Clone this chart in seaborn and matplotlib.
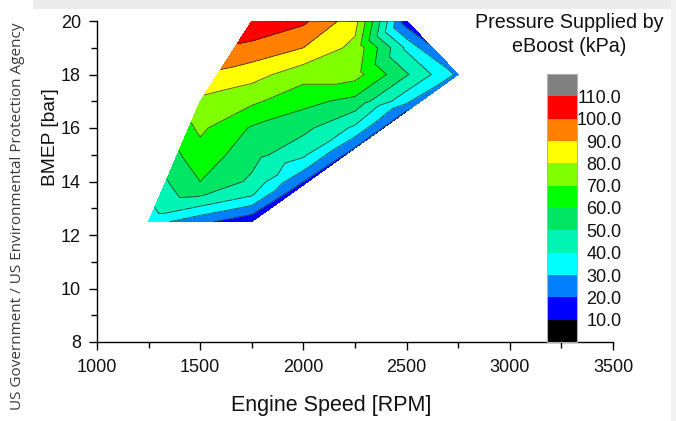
import numpy as np
import matplotlib
matplotlib.use("Agg")
import matplotlib.pyplot as plt
import matplotlib.tri as mtri
from matplotlib.patches import Rectangle
from matplotlib.ticker import MultipleLocator
import seaborn as sns

# eBoost pressure map: operating points (engine speed, BMEP) and supplied pressure
speed_rpm = [1250,
             1500, 1500, 1500, 1500, 1500, 1500, 1500,
             1750, 1750, 1750, 1750, 1750, 1750, 1750, 1750, 1750, 1750,
             2000, 2000, 2000, 2000, 2000, 2000, 2000, 2000,
             2250, 2250, 2250, 2250, 2250, 2250,
             2500, 2500, 2500, 2500, 2500,
             2750]
bmep_bar = [12.5,
            12.5, 13.0, 13.5, 14.0, 15.0, 16.0, 17.0,
            12.5, 13.0, 13.5, 14.0, 15.0, 16.0, 17.0, 18.0, 19.0, 20.0,
            13.875, 14.5, 15.0, 16.0, 17.0, 18.0, 19.0, 20.0,
            15.25, 16.0, 17.0, 18.0, 19.0, 20.0,
            16.625, 17.0, 18.0, 19.0, 20.0,
            18.0]
boost_kpa = [35,
             23, 38, 51, 60, 66, 72, 77.5,
             12, 27, 41, 48, 54, 59, 72, 84, 97, 109,
             17, 32, 42, 53, 63, 74, 90, 102,
             19.5, 38, 57, 74, 77, 84,
             19.5, 33, 51, 38, 14,
             28]

levels = [0, 10, 20, 30, 40, 50, 60, 70, 80, 90, 100, 110, 120]
band_colors = ["#000000", "#0000FF", "#0080FF", "#00FFFF", "#00F5B4",
               "#00E664", "#00FF00", "#80FF00", "#FFFF00", "#FF8000",
               "#FF0000", "#808080"]
cbar_ticks = [10, 20, 30, 40, 50, 60, 70, 80, 90, 100, 110]
cbar_labels = ["10.0", "20.0", "30.0", "40.0", "50.0", "60.0", "70.0",
               "80.0", "90.0", "100.0", "110.0"]

sns.set_theme(style="ticks")
plt.rcParams["font.family"] = ["Liberation Sans", "DejaVu Sans"]

W, H = 676, 421
fig = plt.figure(figsize=(W / 100, H / 100), dpi=100)
fig.patch.set_facecolor("white")

# light frame around the panel
fig.add_artist(Rectangle((33 / W, 1 - 9 / H), 1, 9 / H, transform=fig.transFigure,
                         facecolor="#ececec", edgecolor="none", zorder=-5))
fig.add_artist(Rectangle((671 / W, 0), 5 / W, 1, transform=fig.transFigure,
                         facecolor="#f2f2f2", edgecolor="none", zorder=-5))

ax = fig.add_axes([97 / W, 1 - 342 / H, 516 / W, 321 / H])
ax.set_facecolor("white")

x = np.asarray(speed_rpm, float)
y = np.asarray(bmep_bar, float)
z = np.asarray(boost_kpa, float)

# triangulate on comparable scales (250 rpm ~ 1 bar) with a slight shear so every
# grid cell is split along its rising diagonal, then plot in real units
u = x / 250.0
tri_scaled = mtri.Triangulation(u, y - 0.2 * u)
tri = mtri.Triangulation(x, y, tri_scaled.triangles)

cs = ax.tricontourf(tri, z, levels=levels, colors=band_colors)
ax.tricontour(tri, z, levels=levels[1:-1], colors="#2b2b2b", linewidths=0.6, alpha=0.85)

ax.set_xlim(1000, 3500)
ax.set_ylim(8, 20)
ax.xaxis.set_major_locator(MultipleLocator(500))
ax.xaxis.set_minor_locator(MultipleLocator(250))
ax.yaxis.set_major_locator(MultipleLocator(2))
ax.yaxis.set_minor_locator(MultipleLocator(1))
sns.despine(ax=ax)
for s in ("left", "bottom"):
    ax.spines[s].set_color("black")
    ax.spines[s].set_linewidth(1.0)
ax.tick_params(which="major", direction="out", length=5.5, width=1, color="black",
               labelsize=13, labelcolor="#111111")
ax.tick_params(axis="x", which="major", pad=7)
ax.tick_params(axis="y", which="major", pad=6)
ax.tick_params(which="minor", direction="out", length=4, width=1, color="black")

ax.set_xlabel("Engine Speed [RPM]", fontsize=15.5, color="#111111")
ax.set_ylabel("BMEP [bar]", fontsize=13.8, color="#111111")
ax.xaxis.set_label_coords(0.453, -0.165)
ax.yaxis.set_label_coords(-0.074, 0.638)

# colour scale
cax = fig.add_axes([547 / W, 1 - 342 / H, 30 / W, 268 / H])
cb = fig.colorbar(cs, cax=cax)
cb.set_ticks(cbar_ticks, labels=cbar_labels)
cb.outline.set_edgecolor("#b0b0b0")
cb.outline.set_linewidth(0.8)
cax.tick_params(length=0, pad=32, labelsize=13, labelcolor="#111111")
for lbl in cax.get_yticklabels():
    lbl.set_horizontalalignment("right")

fig.text(569 / W, 1 - 22 / H, "Pressure Supplied by", ha="center", va="center",
         fontsize=14.2, color="#111111")
fig.text(569 / W, 1 - 47 / H, "eBoost (kPa)", ha="center", va="center",
         fontsize=14.2, color="#111111")

fig.text(18 / W, 1 - 216 / H, "US Government / US Environmental Protection Agency",
         rotation=90, ha="center", va="center", fontsize=11, color="#3a3a3a",
         family=["Open Sans", "DejaVu Sans"])

fig.savefig("out.png", dpi=100, facecolor=fig.get_facecolor())
